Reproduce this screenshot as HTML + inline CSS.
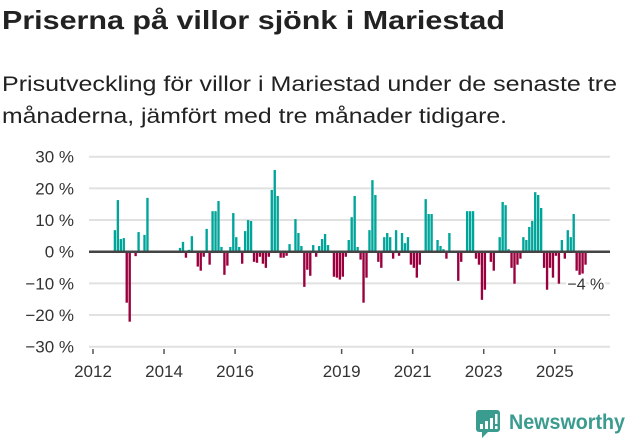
<!DOCTYPE html>
<html><head><meta charset="utf-8"><style>
body{margin:0;width:631px;height:439px;background:#fff;overflow:hidden;font-family:"Liberation Sans","DejaVu Sans",sans-serif;}
svg{position:absolute;left:0;top:0}
</style></head><body>
<svg id="chart" width="631" height="439" viewBox="0 0 631 439">
<text x="2" y="29" font-size="26" font-weight="bold" fill="#222" textLength="503" lengthAdjust="spacingAndGlyphs">Priserna på villor sjönk i Mariestad</text>
<text x="2" y="91" font-size="21" fill="#222" textLength="615" lengthAdjust="spacingAndGlyphs">Prisutveckling för villor i Mariestad under de senaste tre</text>
<text x="2" y="123" font-size="21" fill="#222" textLength="505" lengthAdjust="spacingAndGlyphs">månaderna, jämfört med tre månader tidigare.</text>
<g id="grid"></g><g id="bars"></g><g id="axes"></g>
<g>
<rect x="476" y="410" width="24" height="22" rx="3" fill="#3a9b8f"/>
<path d="M482 432 L482 438 L488 432 Z" fill="#3a9b8f"/>
<rect x="480" y="424" width="3" height="5" fill="#fff"/><rect x="485" y="421" width="3" height="8" fill="#fff"/><rect x="490" y="418" width="3" height="11" fill="#fff"/><rect x="495" y="414" width="2.5" height="10" fill="#fff"/><rect x="495" y="426" width="2.5" height="3" fill="#fff"/>
<text x="509" y="429" font-size="21" font-weight="bold" fill="#3a9b8f" textLength="116" lengthAdjust="spacingAndGlyphs">Newsworthy</text>
</g>
</svg>
<script>
const yTicks=[30,20,10,0,-10,-20,-30];
const yTickLabels=["30 %","20 %","10 %","0 %","−10 %","−20 %","−30 %"];
const xTickYears=[2012,2014,2016,2019,2021,2023,2025];
const startYear=2012;
const values=[0,0,0,0,0,0,0,6.8,16.3,4.0,4.3,-16.1,-22.1,0,-1.4,6.2,0,5.3,17.0,0,
0,0,0,0,0,0,0,0,0,1.2,3.1,-1.9,0.6,4.9,0,-4.7,-6.0,-1.6,7.2,-4.1,
12.8,12.8,16.0,1.5,-7.3,-4.4,1.5,12.2,4.6,1.5,-3.8,6.5,10.0,9.7,-3.2,-3.5,-1.6,-3.8,-5.1,-1.6,
19.5,25.8,17.6,-1.9,-1.9,-1.3,2.4,0,10.3,5.9,1.8,-11.1,-5.7,-7.6,2.1,-1.6,1.8,4.0,5.6,2.1,
0,-7.9,-8.2,-8.8,-7.9,-1.6,3.7,10.9,17.6,1.5,-2.5,-16.1,-8.2,6.8,22.6,17.9,-3.2,-5.1,4.6,5.9,
4.6,-2.2,6.8,-1.3,5.9,2.7,4.6,-4.1,-5.1,-8.2,-4.1,0,16.6,11.9,11.9,0,3.7,1.8,0.8,-2.2,
5.9,0,0,-9.2,-3.2,0,12.8,12.8,12.8,-2.2,-4.1,-15.2,-12.0,0,-3.2,-6.0,0,4.6,15.7,14.7,
0.8,-5.1,-10.1,-4.1,-2.2,4.6,3.7,7.8,9.7,18.8,17.9,13.8,-5.1,-12.0,-5.1,-8.2,-1.3,-10.1,3.7,-2.2,
6.8,4.6,11.9,-6.0,-7.3,-6.9,-4.1];
const lastLabel="−4 %";
const NS="http://www.w3.org/2000/svg";
const x0=93, monthW=2.96, yZero=251.7, pxPer=3.167;
const xm=i=>x0+i*monthW;
const ys=v=>yZero-v*pxPer;
function mk(t,a,p){const e=document.createElementNS(NS,t);for(const k in a)e.setAttribute(k,a[k]);p.appendChild(e);return e;}
const grid=document.getElementById('grid'),bars=document.getElementById('bars'),axes=document.getElementById('axes');
yTicks.forEach((v,k)=>{
 if(v!==0){const l=mk('line',{x1:89,x2:610,y1:ys(v),y2:ys(v),stroke:'#e1e1e1','stroke-width':2},grid);
 
 }
 const t=mk('text',{x:74,y:ys(v)+6,'text-anchor':'end','font-size':17,fill:'#333'},axes);
 
 
 t.textContent=yTickLabels[k];
});
values.forEach((v,i)=>{
 if(!v)return;
 const r=mk('rect',{x:xm(i),width:monthW-0.6,y:Math.min(ys(v),yZero),height:Math.abs(ys(v)-yZero),fill:v>0?'#00a59a':'#99003d'},bars);
 
 
});
const z=mk('line',{x1:89,x2:610,y1:yZero,y2:yZero,stroke:'#444','stroke-width':2.5},axes);


xTickYears.forEach(y=>{
 const x=xm((y-startYear)*12);
 const tk=mk('line',{x1:x,x2:x,y1:349,y2:354,stroke:'#555','stroke-width':1.5},axes);
 
 
 const t=mk('text',{x:x,y:377,'text-anchor':'middle','font-size':17,fill:'#333'},axes);
 
 
 t.textContent=y;
});
const li=values.length-1;
const lb=mk('text',{x:xm(li)-17,y:ys(values[li])+25,'font-size':16,fill:'#333',stroke:'#fff','stroke-width':4,'paint-order':'stroke'},axes);


lb.textContent=lastLabel;
</script>
</body></html>
